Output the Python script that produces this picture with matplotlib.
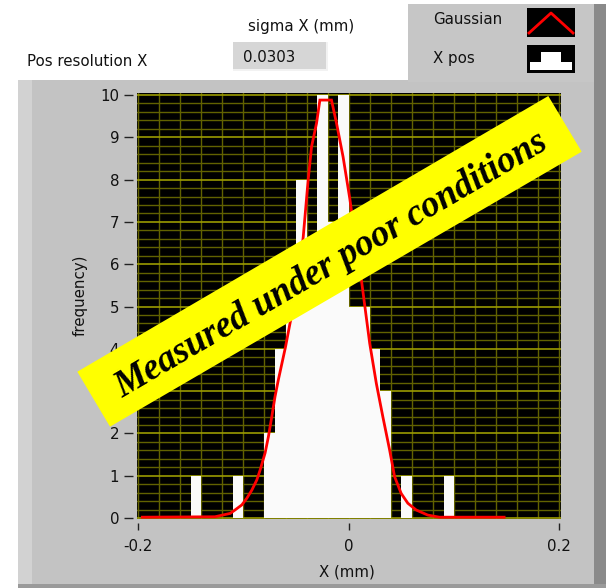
import numpy as np
import matplotlib
matplotlib.use("Agg")
import matplotlib.pyplot as plt
from matplotlib.patches import Rectangle, Polygon

# ---------------- data ----------------
bin_left = [-0.15, -0.11, -0.08, -0.07, -0.06, -0.05, -0.04, -0.03, -0.02, -0.01,
            0.00, 0.01, 0.02, 0.03, 0.05, 0.09]
counts = [1, 1, 2, 4, 5, 8, 6, 10, 7, 10, 5, 5, 4, 3, 1, 1]
bin_width = 0.01

gauss_x = [-0.196, -0.127, -0.1125, -0.108, -0.1015, -0.0967, -0.092, -0.0873, -0.0842,
           -0.0794, -0.0763, -0.0731, -0.070, -0.0669, -0.0600, -0.0558, -0.048, -0.0432,
           -0.0385, -0.0353, -0.0306, -0.0274, -0.0164, -0.0116, -0.0054, 0.001, 0.0073,
           0.012, 0.0199, 0.0262, 0.0324, 0.0388, 0.0435, 0.0498, 0.0561, 0.064, 0.075,
           0.086, 0.1475]
gauss_y = [0.02, 0.03, 0.11, 0.19, 0.31, 0.47, 0.66, 0.90, 1.13, 1.54, 1.92, 2.39, 2.87,
           3.26, 4.05, 4.60, 5.55, 6.65, 8.0, 8.78, 9.33, 9.88, 9.88, 9.33, 8.54, 7.55,
           6.41, 5.63, 4.13, 3.18, 2.39, 1.61, 0.98, 0.58, 0.35, 0.19, 0.07, 0.02, 0.02]

x_ticks = [-0.2, 0, 0.2]
x_tick_labels = ["-0.2", "0", "0.2"]
y_ticks = list(range(0, 11))
sigma_value = "0.0303"
banner_text = "Measured under poor conditions"

# ---------------- figure ----------------
W, H = 606, 588
fig = plt.figure(figsize=(W / 100, H / 100), dpi=100)
fig.patch.set_facecolor("white")
FONT = "DejaVu Sans"
FS = 10.8


def fx(x):
    return x / W


def fy(y):
    return 1 - y / H


def px_rect(x0, y0, x1, y1, color, z=0, ec="none", lw=0):
    r = Rectangle((fx(x0), fy(y1)), fx(x1) - fx(x0), fy(y0) - fy(y1),
                  transform=fig.transFigure, facecolor=color, edgecolor=ec,
                  linewidth=lw, zorder=z)
    fig.patches.append(r)


# graph panel
px_rect(18, 80, 606, 588, "#c3c3c3", z=0)
px_rect(18, 80, 32, 588, "#d2d2d2", z=0.1)
px_rect(594, 80, 606, 588, "#8a8a8a", z=0.1)
px_rect(18, 584, 606, 588, "#9a9a9a", z=0.1)

# legend panel
px_rect(408, 4, 600, 82, "#c6c6c6", z=0.2)
px_rect(594, 4, 606, 82, "#8a8a8a", z=0.25)
px_rect(527, 8, 575, 37, "black", z=0.3)
px_rect(527, 45, 575, 73, "black", z=0.3)
# legend icons
fig.lines.append(plt.Line2D([fx(529), fx(551), fx(573)], [fy(33), fy(13), fy(33)],
                            transform=fig.transFigure, color="red", lw=2, zorder=0.4))
step_pts = [(530, 70), (530, 62), (541, 62), (541, 52), (561, 52), (561, 62),
            (572, 62), (572, 70)]
fig.patches.append(Polygon([(fx(a), fy(b)) for a, b in step_pts], closed=True,
                           transform=fig.transFigure, facecolor="white",
                           edgecolor="none", zorder=0.4))
fig.text(fx(433), fy(20), "Gaussian", fontsize=FS, family=FONT, va="center",
         ha="left", color="#111111")
fig.text(fx(433), fy(59), "X pos", fontsize=FS, family=FONT, va="center",
         ha="left", color="#111111")

# sigma indicator
px_rect(233, 42, 328, 71, "#d6d6d6", z=0.2)
px_rect(233, 69, 328, 71, "#f2f2f2", z=0.25)
px_rect(326, 42, 328, 71, "#f2f2f2", z=0.25)
fig.text(fx(301), fy(27), "sigma X (mm)", fontsize=FS, family=FONT, va="center",
         ha="center", color="#111111")
fig.text(fx(243), fy(57), sigma_value, fontsize=FS, family=FONT, va="center",
         ha="left", color="#111111")
fig.text(fx(27), fy(62), "Pos resolution X", fontsize=FS, family=FONT,
         va="center", ha="left", color="#111111")

# ---------------- axes ----------------
ax = fig.add_axes([fx(136.5), fy(519.3), fx(561) - fx(136.5), fy(93.3) - fy(519.3)])
ax.set_zorder(1)
ax.set_facecolor("black")
ax.set_xlim(-0.2015, 0.2015)
ax.set_ylim(-0.03, 10.04)

ax.bar(bin_left, counts, width=bin_width, align="edge", color="#fafafa",
       edgecolor="none", zorder=2)
ax.plot(gauss_x, gauss_y, color="red", lw=2.0, zorder=3, solid_joinstyle="miter")

ax.set_xticks(x_ticks)
ax.set_xticklabels(x_tick_labels)
ax.set_yticks(y_ticks)
ax.set_xticks(np.arange(-0.2, 0.2001, 0.02), minor=True)
ax.set_yticks(np.arange(0, 10.001, 0.2), minor=True)
ax.set_axisbelow(True)
ax.grid(which="minor", axis="both", color="#626200", lw=1.0)
ax.grid(which="major", axis="y", color="#9a9a00", lw=1.2)
ax.grid(which="major", axis="x", color="#626200", lw=1.0)
ax.tick_params(which="minor", length=0)
ax.tick_params(which="major", direction="out", color="#222222", labelcolor="#111111",
               labelsize=FS, width=1)
ax.tick_params(axis="y", length=6.5, pad=3.5)
ax.tick_params(axis="x", length=5, pad=6)
for t in ax.get_xticklabels() + ax.get_yticklabels():
    t.set_family(FONT)
for side in ["top", "right"]:
    ax.spines[side].set_visible(False)
ax.spines["left"].set_position(("outward", 2.5))
ax.spines["bottom"].set_position(("outward", 3))
ax.spines["left"].set_visible(False)
ax.spines["bottom"].set_visible(False)

fig.text(fx(80), fy(295), "frequency)", rotation=90, fontsize=FS, family=FONT,
         va="center", ha="center", color="#111111", zorder=2)
fig.text(fx(347), fy(572), "X (mm)", fontsize=FS, family=FONT, va="center",
         ha="center", color="#111111", zorder=2)

# ---------------- banner ----------------
L = (77.3, 371.7)
B = (110.0, 426.7)
R = (581.7, 151.7)
T = (548.3, 96.0)
fig.patches.append(Polygon([(fx(a), fy(b)) for a, b in [L, B, R, T]], closed=True,
                           transform=fig.transFigure, facecolor="#ffff00",
                           edgecolor="none", zorder=5))
ang_rad = np.arctan2(L[1] - T[1], T[0] - L[0])
angle = np.degrees(ang_rad)
cx, cy = (L[0] + R[0]) / 2, (L[1] + R[1]) / 2
shift = 4
cx += shift * np.sin(ang_rad)
cy += shift * np.cos(ang_rad)
fig.text(fx(cx), fy(cy), banner_text, rotation=angle, rotation_mode="anchor",
         ha="center", va="center", fontsize=26.5, family="Liberation Serif",
         weight="bold", style="italic", color="black", zorder=6)

fig.savefig("out.png", dpi=100)
